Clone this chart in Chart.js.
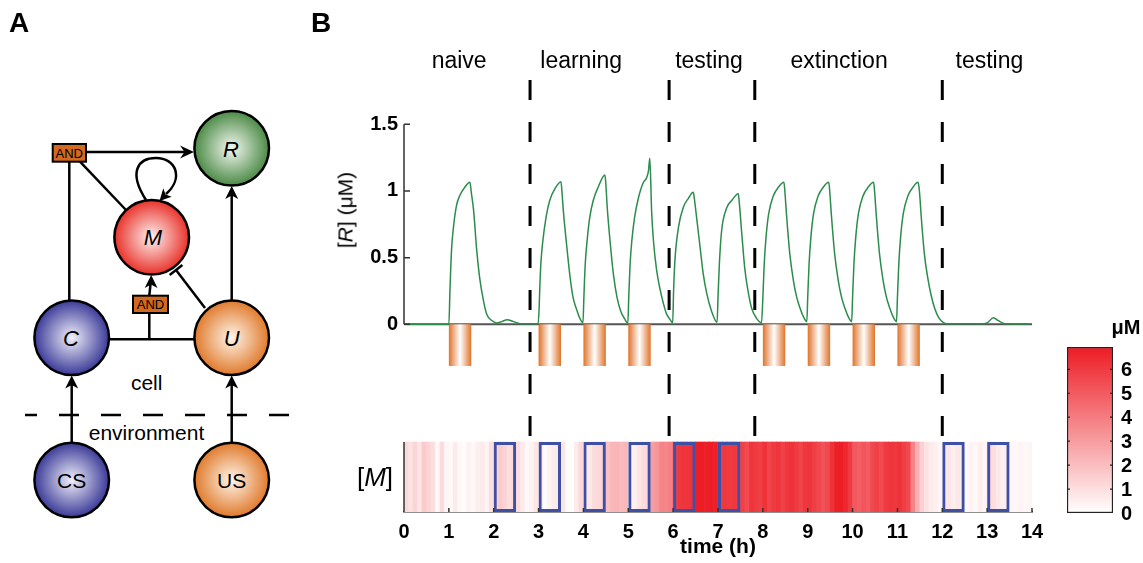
<!DOCTYPE html>
<html><head><meta charset="utf-8">
<script src="https://cdn.jsdelivr.net/npm/chart.js@4/dist/chart.umd.min.js"></script>
<style>
html,body{margin:0;padding:0;background:#fff;}
body{width:1143px;height:563px;position:relative;overflow:hidden;font-family:"Liberation Sans",Arial,sans-serif;}
.t{position:absolute;white-space:nowrap;color:#000;line-height:1;}
#main{position:absolute;left:0;top:0;}
#cbar{position:absolute;left:1060px;top:337px;}
#diag{position:absolute;left:0;top:0;}
</style></head><body>
<svg id="diag" width="330" height="563" viewBox="0 0 330 563" font-family="Liberation Sans, Arial, sans-serif">
<defs>
 <radialGradient id="gR"><stop offset="0" stop-color="#f4f8f2"/><stop offset="1" stop-color="#4b8a45"/></radialGradient>
 <radialGradient id="gM"><stop offset="0" stop-color="#fff2f0"/><stop offset="1" stop-color="#e8322a"/></radialGradient>
 <radialGradient id="gC"><stop offset="0" stop-color="#f0f0fa"/><stop offset="1" stop-color="#3b3a98"/></radialGradient>
 <radialGradient id="gU"><stop offset="0" stop-color="#fff5ea"/><stop offset="1" stop-color="#e07a2c"/></radialGradient>
</defs>
<g stroke="#000" stroke-width="2.5" fill="none">
 <line x1="86" y1="152" x2="186" y2="152"/>
 <line x1="69.3" y1="161.7" x2="69.3" y2="301"/>
 <line x1="80" y1="161.7" x2="126" y2="210"/>
 <path d="M146,200 C128,172 138,158 156,158 C176,158 184,178 166,194"/>
 <line x1="109" y1="339.3" x2="194" y2="339.3"/>
 <line x1="149.3" y1="339.3" x2="149.3" y2="313"/>
 <line x1="149.3" y1="295.7" x2="150.5" y2="284"/>
 <line x1="205" y1="308" x2="176" y2="270"/>
 <line x1="182.4" y1="265.1" x2="169.6" y2="274.9"/>
 <line x1="231.7" y1="300" x2="231.7" y2="195"/>
 <line x1="71.7" y1="442.5" x2="71.7" y2="384"/>
 <line x1="231.7" y1="442.5" x2="231.7" y2="384"/>
 <line x1="25" y1="415" x2="293" y2="415" stroke-dasharray="20 22" stroke-dashoffset="8"/>
</g>
<g fill="#000">
 <polygon points="194,152 180,145.5 184.5,152 180,158.5"/>
 <polygon points="159.5,201 171.7,196.7 165.5,194.5 163.3,188.3"/>
 <polygon points="151.2,275 144.7,288 151,284.5 157.5,288"/>
 <polygon points="231.7,186 225.2,199 231.7,195.5 238.2,199"/>
 <polygon points="71.7,375.5 65.2,388.5 71.7,385 78.2,388.5"/>
 <polygon points="231.7,375.5 225.2,388.5 231.7,385 238.2,388.5"/>
</g>
<g stroke="#000" stroke-width="2.5">
 <circle cx="231.7" cy="148.3" r="37.3" fill="url(#gR)"/>
 <circle cx="151.7" cy="237.3" r="37.3" fill="url(#gM)"/>
 <circle cx="71.7" cy="337.7" r="37.3" fill="url(#gC)"/>
 <circle cx="231.7" cy="337.7" r="37.3" fill="url(#gU)"/>
 <circle cx="71.7" cy="480" r="37.3" fill="url(#gC)"/>
 <circle cx="231.7" cy="480" r="37.3" fill="url(#gU)"/>
</g>
<g stroke="#000" stroke-width="2" fill="#d2691e">
 <rect x="52.7" y="144" width="33.3" height="17.7"/>
 <rect x="133" y="295.7" width="35" height="17.3"/>
</g>
<g font-size="13" text-anchor="middle" fill="#000">
 <text x="69.3" y="157.6">AND</text>
 <text x="150.5" y="309">AND</text>
</g>
<g font-size="22" text-anchor="middle" fill="#000" font-style="italic">
 <text x="231" y="156.5">R</text>
 <text x="153" y="245">M</text>
 <text x="71" y="345.5">C</text>
 <text x="231.7" y="345.5">U</text>
</g>
<g font-size="21" text-anchor="middle" fill="#000">
 <text x="71.7" y="488">CS</text>
 <text x="231.7" y="488">US</text>
 <text x="146.7" y="390">cell</text>
 <text x="146.5" y="440">environment</text>
</g>
</svg>
<canvas id="main" width="1143" height="563"></canvas>
<canvas id="cbar" width="83" height="190"></canvas>
<div class="t" style="left:9px;top:9px;font-size:28px;font-weight:bold;">A</div>
<div class="t" style="left:311px;top:9px;font-size:28px;font-weight:bold;">B</div>
<div class="t" style="left:345px;top:210px;font-size:21px;transform:translate(-50%,-50%) rotate(-90deg);">[<i>R</i>] (μM)</div>
<div class="t" style="left:375px;top:477px;font-size:26px;transform:translate(-50%,-50%);">[<i>M</i>]</div>
<div class="t" style="left:1126px;top:327px;font-size:20px;font-weight:bold;transform:translate(-50%,-50%);">μM</div>
<script>
// ---------------- DATA ----------------
// R(t) response, time in hours
const rTime = [0, 0.98,
  1.0, 1.025, 1.06, 1.10, 1.17, 1.25, 1.36, 1.47, 1.50, 1.55, 1.62, 1.69, 1.77, 1.84, 1.95, 2.07, 2.18, 2.30, 2.44, 2.59, 2.99,
  3.01, 3.03, 3.05, 3.09, 3.17, 3.25, 3.37, 3.50, 3.52, 3.55, 3.63, 3.70, 3.77, 3.85, 3.92, 3.99,
  4.01, 4.04, 4.08, 4.14, 4.22, 4.33, 4.48, 4.50, 4.53, 4.60, 4.67, 4.75, 4.83, 4.92, 4.99,
  5.01, 5.04, 5.08, 5.14, 5.22, 5.33, 5.41, 5.45, 5.48, 5.52, 5.56, 5.63, 5.71, 5.78, 5.85, 5.93, 5.99,
  6.01, 6.04, 6.12, 6.23, 6.34, 6.45, 6.47, 6.52, 6.60, 6.67, 6.75, 6.86, 6.98,
  7.00, 7.03, 7.08, 7.19, 7.31, 7.45, 7.47, 7.53, 7.60, 7.68, 7.75, 7.86, 7.97,
  8.00, 8.03, 8.07, 8.13, 8.23, 8.35, 8.47, 8.49, 8.53, 8.60, 8.68, 8.75, 8.83, 8.90, 8.98,
  9.00, 9.03, 9.07, 9.13, 9.23, 9.35, 9.47, 9.49, 9.53, 9.60, 9.68, 9.75, 9.83, 9.90, 9.98,
  10.00, 10.03, 10.07, 10.13, 10.23, 10.35, 10.47, 10.49, 10.53, 10.60, 10.68, 10.75, 10.83, 10.90, 10.98,
  11.00, 11.03, 11.07, 11.13, 11.23, 11.35, 11.46, 11.49, 11.53, 11.60, 11.68, 11.75, 11.83, 11.92, 12.02, 12.10,
  12.90, 13.00, 13.14, 13.25, 13.40, 13.95];
const rValue = [0, 0,
  0.0, 0.26, 0.56, 0.72, 0.89, 0.97, 1.03, 1.065, 0.99, 0.86, 0.56, 0.34, 0.18, 0.08, 0.03, 0.01, 0.02, 0.035, 0.02, 0.005, 0.005,
  0.10, 0.30, 0.45, 0.61, 0.81, 0.93, 1.02, 1.07, 1.00, 0.86, 0.58, 0.36, 0.20, 0.11, 0.045, 0.012,
  0.20, 0.45, 0.62, 0.80, 0.93, 1.03, 1.12, 1.05, 0.88, 0.60, 0.37, 0.20, 0.10, 0.04, 0.008,
  0.20, 0.45, 0.63, 0.80, 0.94, 1.06, 1.10, 1.15, 1.245, 0.85, 0.63, 0.41, 0.26, 0.16, 0.08, 0.037, 0.012,
  0.25, 0.48, 0.73, 0.88, 0.945, 0.99, 0.95, 0.81, 0.58, 0.38, 0.23, 0.095, 0.015,
  0.20, 0.45, 0.70, 0.87, 0.93, 0.98, 0.93, 0.68, 0.41, 0.23, 0.12, 0.045, 0.012,
  0.20, 0.45, 0.65, 0.83, 0.96, 1.03, 1.065, 1.00, 0.81, 0.53, 0.33, 0.21, 0.12, 0.06, 0.02,
  0.20, 0.45, 0.65, 0.83, 0.96, 1.03, 1.065, 1.00, 0.81, 0.53, 0.33, 0.21, 0.12, 0.06, 0.02,
  0.20, 0.45, 0.65, 0.83, 0.96, 1.03, 1.065, 1.00, 0.81, 0.53, 0.33, 0.21, 0.12, 0.06, 0.02,
  0.20, 0.45, 0.65, 0.83, 0.96, 1.03, 1.065, 1.00, 0.81, 0.53, 0.34, 0.22, 0.12, 0.05, 0.015, 0.005,
  0.005, 0.01, 0.05, 0.027, 0.005, 0.003];
// [M] heat map, one value per 0.1 h cell from 0 to 14 h (μM)
const mValue = [
  1.2, 0.9, 1.3, 0.8, 1.6, 1.3, 1.0, 0.2, 1.1, 0.3,
  0.2, 0.6, 0.2, 0.1, 0.4, 0.2, 0.5, 0.6, 0.4, 1.0,
  1.1, 1.6, 1.3, 1.0, 1.2, 1.0, 0.6, 0.2, 0.4, 0.8,
  0.8, 0.1, 0.4, 0.6, 0.7, 0.8, 0.1, 0.1, 0.6, 1.2,
  0.6, 0.7, 1.1, 1.2, 1.4, 1.9, 2.2, 2.3, 2.1, 2.2,
  0.3, 0.5, 0.8, 1.1, 1.3, 3.0, 3.2, 3.8, 3.7, 3.9,
  5.8, 6.1, 6.2, 6.2, 6.3, 6.9, 6.9, 6.8, 6.9, 6.8,
  6.0, 6.1, 6.0, 6.1, 6.0, 5.8, 5.5, 6.2, 6.0, 5.9,
  6.3, 5.7, 6.0, 6.2, 5.8, 6.1, 6.3, 6.0, 5.7, 6.1,
  6.2, 5.9, 5.6, 5.3, 5.6, 6.3, 6.8, 6.9, 6.6, 6.0,
  5.1, 4.9, 5.2, 5.0, 5.6, 5.8, 5.5, 6.0, 6.2, 6.1,
  6.3, 5.9, 5.6, 3.8, 2.4, 1.4, 0.9, 0.6, 0.5, 0.3,
  0.6, 0.8, 0.5, 0.7, 0.6, 0.2, 0.4, 0.2, 0.5, 0.3,
  1.3, 1.0, 0.7, 0.5, 0.6, 0.3, 0.2, 0.4, 0.2, 0.3];
const M_CELL = 0.1;          // h per heat-map cell
const usOnset = [1, 3, 4, 5, 8, 9, 10, 11];      // US stimulus (orange)
const csOnset = [2, 3, 4, 5, 6, 7, 12, 13];      // CS stimulus (blue boxes)
const STIM_DUR = 0.5;
const phaseBounds = [2.81, 5.91, 7.82, 12.0];
const phaseNames = ['naive', 'learning', 'testing', 'extinction', 'testing'];
const phaseLabelT = [1.23, 3.95, 6.8, 9.7, 13.05];
const rTicks = [0, 0.5, 1, 1.5];
const xTicksMax = 14;
const cbarTicks = [0, 1, 2, 3, 4, 5, 6];
const CMAX = 6.93;

// ---------------- LAYOUT ----------------
const PX = {top: 40, bottom: 512, left: 404, right: 1032, r0: 324.3, r15: 124.3, heatTop: 442, usBottom: 366, dashTop: 80};
const K = (PX.r0 - PX.r15) / 1.5;
const RMIN = -(PX.bottom - PX.r0) / K, RMAX = (PX.r0 - PX.top) / K;
const MMAX = (PX.bottom - PX.top) / (PX.bottom - PX.heatTop);
const US_LOW = -(PX.usBottom - PX.r0) / K;
const DASH_HI = (PX.r0 - PX.dashTop) / K, DASH_LO = -(PX.heatTop - PX.r0) / K;

const RED = [237, 28, 36];
function heatColor(v) {
  const f = Math.max(0, Math.min(1, v / CMAX));
  return `rgb(${Math.round(255 + (RED[0]-255)*f)},${Math.round(255 + (RED[1]-255)*f)},${Math.round(255 + (RED[2]-255)*f)})`;
}
const US_COLOR = '#e0732a';
const FONT = '"Liberation Sans", Arial, sans-serif';

const heatData = mValue.map((v, i) => ({x: (i + 0.5) * M_CELL, y: [0, 1]}));
const lineData = rTime.map((t, i) => ({x: t, y: rValue[i]}));

const dashSets = phaseBounds.map(b => ({
  type: 'line', xAxisID: 'x', yAxisID: 'yR', order: 0,
  data: [{x: b, y: DASH_HI}, {x: b, y: DASH_LO}],
  borderColor: '#000', borderWidth: 3, borderDash: [20, 22], pointRadius: 0, fill: false
}));

const decor = {
  id: 'decor',
  beforeDatasetsDraw(chart) {
    const {ctx, scales: {x, yR}} = chart;
    ctx.save();
    ctx.strokeStyle = '#555'; ctx.lineWidth = 2;
    const y0 = yR.getPixelForValue(0);
    ctx.beginPath(); ctx.moveTo(x.getPixelForValue(0), y0); ctx.lineTo(x.getPixelForValue(xTicksMax), y0); ctx.stroke();
    ctx.restore();
  },
  afterDatasetsDraw(chart) {
    const {ctx, scales: {x, yR, yM}} = chart;
    ctx.save();
    const xl = x.getPixelForValue(0);
    ctx.strokeStyle = '#333'; ctx.lineWidth = 1.5;
    ctx.beginPath();
    ctx.moveTo(xl, yR.getPixelForValue(rTicks[rTicks.length-1]));
    ctx.lineTo(xl, yR.getPixelForValue(0));
    rTicks.forEach(v => { const p = yR.getPixelForValue(v); ctx.moveTo(xl, p); ctx.lineTo(xl + 6, p); });
    ctx.moveTo(xl, yM.getPixelForValue(1)); ctx.lineTo(xl, yM.getPixelForValue(0));
    for (let i = 0; i <= xTicksMax; i++) { const p = x.getPixelForValue(i); ctx.moveTo(p, yM.getPixelForValue(0)); ctx.lineTo(p, yM.getPixelForValue(0) - 4); }
    ctx.stroke();
    ctx.fillStyle = '#000'; ctx.font = '23px ' + FONT; ctx.textAlign = 'center'; ctx.textBaseline = 'alphabetic';
    phaseNames.forEach((n, i) => ctx.fillText(n, x.getPixelForValue(phaseLabelT[i]), 68));
    ctx.restore();
  }
};

new Chart(document.getElementById('main'), {
  type: 'bar',
  data: {
    datasets: [
      {type: 'bar', xAxisID: 'x', yAxisID: 'yM', order: 10, data: heatData,
       backgroundColor: mValue.map(heatColor), borderWidth: 0, barPercentage: 1, categoryPercentage: 1, grouped: false},
      {type: 'bar', xAxisID: 'x2', yAxisID: 'yM', order: 5,
       data: csOnset.map(t => ({x: t + STIM_DUR / 2, y: [0, 1]})),
       backgroundColor: 'rgba(0,0,0,0)', borderColor: '#3e50a6', borderWidth: 3, borderSkipped: false,
       barPercentage: 1, categoryPercentage: STIM_DUR, grouped: false},
      {type: 'bar', xAxisID: 'x2', yAxisID: 'yR', order: 6,
       data: usOnset.map(t => ({x: t + STIM_DUR / 2, y: [US_LOW, 0]})),
       backgroundColor: (c) => {
         const ch = c.chart, sx = ch.scales.x2;
         if (!sx || !c.raw || !ch.chartArea) return US_COLOR;
         const l = sx.getPixelForValue(c.raw.x - STIM_DUR / 2), r = sx.getPixelForValue(c.raw.x + STIM_DUR / 2);
         const g = ch.ctx.createLinearGradient(l, 0, r, 0);
         g.addColorStop(0, US_COLOR); g.addColorStop(0.5, '#ffffff'); g.addColorStop(1, US_COLOR);
         return g;
       },
       borderWidth: 0, barPercentage: 1, categoryPercentage: STIM_DUR, grouped: false},
      {type: 'line', xAxisID: 'x', yAxisID: 'yR', order: 1, data: lineData,
       borderColor: '#2b8c4c', borderWidth: 1.5, pointRadius: 0, cubicInterpolationMode: 'monotone', fill: false},
      ...dashSets
    ]
  },
  options: {
    responsive: false, animation: false, devicePixelRatio: 1,
    layout: {padding: {left: 330, right: 1143 - PX.right, top: PX.top, bottom: 0}},
    plugins: {legend: {display: false}, tooltip: {enabled: false}},
    scales: {
      x: {type: 'linear', position: 'bottom', min: 0, max: xTicksMax, offset: false,
          ticks: {stepSize: 1, color: '#000', font: {family: FONT, size: 20, weight: 'bold'}, padding: 8, maxRotation: 0, autoSkip: false},
          grid: {display: false, drawTicks: false}, border: {display: true, color: '#222', width: 1.5},
          title: {display: true, text: 'time (h)', color: '#000', font: {family: FONT, size: 21, weight: 'bold'}, padding: {top: 0, bottom: 3}},
          afterFit: s => { s.height = 563 - PX.bottom; }},
      x2: {type: 'linear', display: false, min: 0, max: xTicksMax, offset: false, ticks: {stepSize: 1}},
      yR: {type: 'linear', position: 'left', min: RMIN, max: RMAX,
           afterBuildTicks: s => { s.ticks = rTicks.map(v => ({value: v})); },
           ticks: {color: '#000', font: {family: FONT, size: 20, weight: 'bold'}, padding: 6, callback: v => String(v)},
           grid: {display: false, drawTicks: false}, border: {display: false},
           afterFit: s => { s.width = PX.left - 330; }},
      yM: {type: 'linear', display: false, min: 0, max: MMAX}
    }
  },
  plugins: [decor]
});

// colour bar
const cbDecor = {
  id: 'cbDecor',
  afterDatasetsDraw(chart) {
    const {ctx, chartArea: a, scales: {y}} = chart;
    ctx.save(); ctx.strokeStyle = '#222'; ctx.lineWidth = 1.2; ctx.beginPath();
    cbarTicks.forEach(v => { const p = y.getPixelForValue(v); if (v > 0) { ctx.moveTo(a.left, p); ctx.lineTo(a.left + 3, p); ctx.moveTo(a.right, p); ctx.lineTo(a.right - 3, p); } });
    ctx.stroke();
    ctx.fillStyle = '#000'; ctx.font = 'bold 20px ' + FONT; ctx.textAlign = 'left'; ctx.textBaseline = 'middle';
    cbarTicks.forEach(v => ctx.fillText(String(v), a.right + 8, y.getPixelForValue(v) + 1));
    ctx.restore();
  }
};
new Chart(document.getElementById('cbar'), {
  type: 'bar',
  data: {labels: ['M'], datasets: [{data: [CMAX],
    backgroundColor: (c) => {
      const a = c.chart.chartArea; if (!a) return heatColor(CMAX);
      const g = c.chart.ctx.createLinearGradient(0, a.bottom, 0, a.top);
      g.addColorStop(0, heatColor(0)); g.addColorStop(1, heatColor(CMAX)); return g;
    },
    borderColor: '#222', borderWidth: 1.5, borderSkipped: false, barPercentage: 1, categoryPercentage: 1}]},
  options: {
    responsive: false, animation: false, devicePixelRatio: 1,
    layout: {padding: {left: 7, top: 10, bottom: 14, right: 30}},
    plugins: {legend: {display: false}, tooltip: {enabled: false}},
    scales: {
      x: {display: false},
      y: {display: false, min: 0, max: CMAX}
    }
  },
  plugins: [cbDecor]
});
</script>
</body></html>
